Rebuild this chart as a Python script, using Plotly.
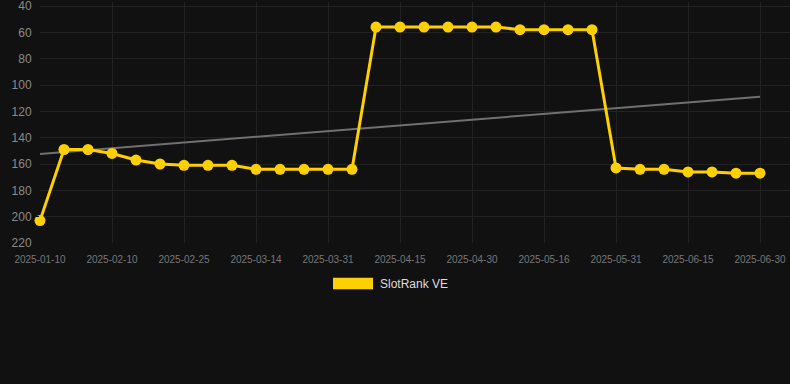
import plotly.graph_objects as go

tick_labels = ["2025-01-10", "2025-02-10", "2025-02-25", "2025-03-14", "2025-03-31",
               "2025-04-15", "2025-04-30", "2025-05-16", "2025-05-31", "2025-06-15", "2025-06-30"]
rank_values = [203, 149, 149, 152, 157, 160, 161, 161, 161, 164, 164, 164, 164, 164,
               56, 56, 56, 56, 56, 56, 58, 58, 58, 58,
               163, 164, 164, 166, 166, 167, 167]
trend_values = [152.4, 109]
series_name = "SlotRank VE"

idx = list(range(len(rank_values)))
tick_idx = idx[::3]

W, H = 790, 384
L, R, T, B = 40, 0, 2, 140.7
px_per_unit = (243.3 - 6) / 180.0
y_top = 40 - (6 - T) / px_per_unit

fig = go.Figure()
fig.add_trace(go.Scatter(
    x=[idx[0], idx[-1]], y=trend_values, mode="lines",
    line=dict(color="#707070", width=2), showlegend=False, hoverinfo="skip"))
fig.add_trace(go.Scatter(
    x=idx, y=rank_values, mode="lines+markers", name=series_name,
    line=dict(color="#FFD000", width=3),
    marker=dict(color="#FFD000", size=11),
    cliponaxis=False, showlegend=False))

plot_w = W - L - R
plot_h = H - T - B
def px(xp):
    return (xp - L) / plot_w
def py(yp):
    return 1 - (yp - T) / plot_h

fig.add_shape(type="rect", xref="paper", yref="paper",
              x0=px(333), x1=px(373), y0=py(289.5), y1=py(278),
              fillcolor="#FFD000", line=dict(width=0))
fig.add_annotation(xref="paper", yref="paper", x=px(378), y=py(284),
                   text=series_name, showarrow=False, xanchor="left", yanchor="middle",
                   font=dict(family="Liberation Sans, Arial", size=12, color="#dddddd"))

fig.update_layout(
    width=W, height=H,
    margin=dict(l=L, r=R, t=T, b=B),
    paper_bgcolor="#111111", plot_bgcolor="#111111",
    font=dict(family="Liberation Sans, Arial", size=11, color="#888888"),
    showlegend=False,
    xaxis=dict(range=[0, 31.25], tickvals=tick_idx, ticktext=tick_labels,
               showgrid=True, gridcolor="#222222", gridwidth=1, zeroline=False,
               showline=False, tickfont=dict(size=10, color="#777777"),
               ticks="outside", ticklen=7, tickcolor="#111111"),
    yaxis=dict(range=[220, y_top], tickvals=[40, 60, 80, 100, 120, 140, 160, 180, 200, 220],
               showgrid=True, gridcolor="#222222", gridwidth=1, zeroline=False,
               tickfont=dict(size=12, color="#8a8a8a"), ticklabeloverflow="allow",
               ticks="outside", ticklen=5, tickcolor="#111111"),
)

fig.write_html("out.html")
